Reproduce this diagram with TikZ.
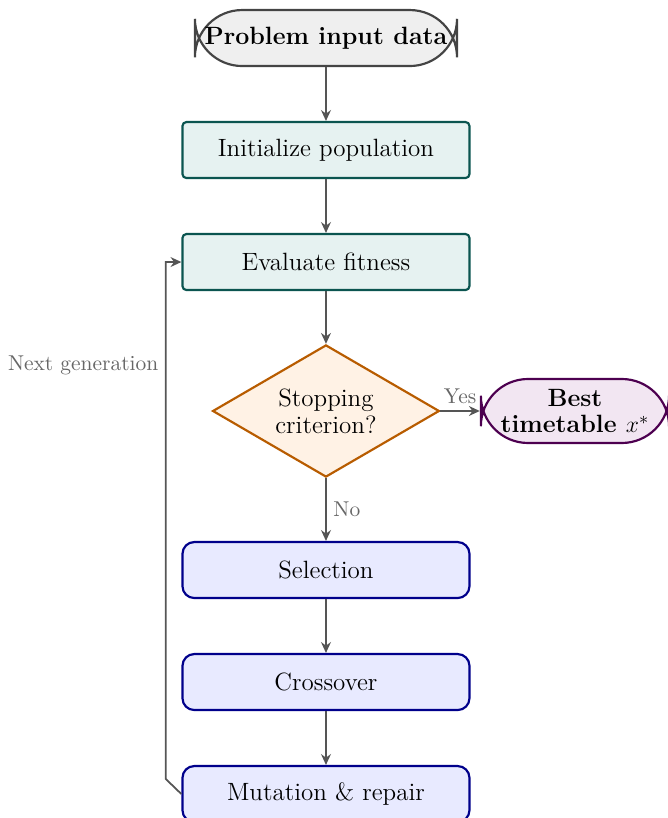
\documentclass[tikz,border=0pt]{standalone}
\usetikzlibrary{shapes.geometric,arrows.meta}
\definecolor{termfill}{HTML}{EFEFEF}
\definecolor{termdraw}{HTML}{444444}
\definecolor{procfill}{HTML}{E6F2F1}
\definecolor{procdraw}{HTML}{0B5550}
\definecolor{decfill}{HTML}{FFF2E5}
\definecolor{decdraw}{HTML}{B85C00}
\definecolor{outfill}{HTML}{F2E6F2}
\definecolor{outdraw}{HTML}{4D0050}
\definecolor{opfill}{HTML}{E8EAFF}
\definecolor{opdraw}{HTML}{00008B}
\definecolor{arrowc}{HTML}{555555}
\definecolor{labelc}{HTML}{666666}
\newcommand{\mainsize}{\fontsize{12.7pt}{13.7pt}\selectfont}
\newcommand{\lblsize}{\fontsize{10.9pt}{13pt}\selectfont}
\tikzset{
  termbox/.style={rectangle, rounded corners=24pt, draw=termdraw, fill=termfill, line width=1.1pt,
    minimum width=4.68cm, minimum height=1cm, font=\mainsize\bfseries, inner xsep=2pt},
  outbox/.style={rectangle, rounded corners=24pt, draw=outdraw, fill=outfill, line width=1.1pt,
    minimum width=3.36cm, minimum height=1.143cm, font=\mainsize\bfseries, align=center, inner xsep=2pt},
  procbox/.style={rectangle, rounded corners=2pt, draw=procdraw, fill=procfill, line width=1.1pt,
    minimum width=5.125cm, minimum height=1cm, font=\mainsize},
  opbox/.style={rectangle, rounded corners=6pt, draw=opdraw, fill=opfill, line width=1.1pt,
    minimum width=5.125cm, minimum height=1cm, font=\mainsize},
  decbox/.style={diamond, aspect=1.72, draw=decdraw, fill=decfill, line width=1.1pt,
    font=\mainsize, align=center, inner sep=1pt, minimum width=4.05cm, minimum height=2.36cm},
  flow/.style={draw=arrowc, line width=0.9pt, -{Stealth[length=5.5pt,width=5pt]}},
  lbl/.style={font=\lblsize, text=labelc}
}
\begin{document}
\begin{tikzpicture}
\useasboundingbox (-5.821,0) rectangle (6.107,-14.607);
\node[termbox] (start) at (0,-0.679) {Problem input data};
\node[procbox] (init) at (0,-2.679) {Initialize population};
\node[procbox] (eval) at (0,-4.679) {Evaluate fitness};
\node[decbox] (dec) at (0,-7.339) {Stopping\\criterion?};
\node[outbox] (best) at (4.446,-7.339) {Best\\timetable $x^{*}$};
\node[opbox] (sel) at (0,-10.179) {Selection};
\node[opbox] (cross) at (0,-12.179) {Crossover};
\node[opbox] (mut) at (0,-14.179) {Mutation \& repair};
\draw[flow] (start) -- (init);
\draw[flow] (init) -- (eval);
\draw[flow] (eval) -- (dec);
\draw[flow] (dec) -- node[lbl, above] {Yes} (best);
\draw[flow] (dec) -- node[lbl, right] {No} (sel);
\draw[flow] (sel) -- (cross);
\draw[flow] (cross) -- (mut);
\draw[flow] (mut.west) -- ++(-0.28,0.27) |- node[lbl, pos=0.4, left] {Next generation} (eval.west);
\end{tikzpicture}
\end{document}
